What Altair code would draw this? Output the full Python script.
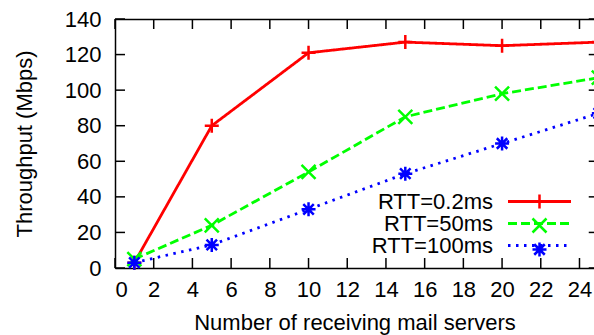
import altair as alt
import pandas as pd

# ---- data ----
series_names = ["RTT=0.2ms", "RTT=50ms", "RTT=100ms"]
servers = [1, 5, 10, 15, 20, 25]
thr_rtt_02 = [3, 80, 121, 127, 125, 127]
thr_rtt_50 = [5, 24, 54, 85, 98, 107]
thr_rtt_100 = [3, 13, 33, 53, 70, 87]
x_tick_values = [0, 2, 4, 6, 8, 10, 12, 14, 16, 18, 20, 22, 24]
y_tick_values = [0, 20, 40, 60, 80, 100, 120, 140]
x_title = "Number of receiving mail servers"
y_title = "Throughput (Mbps)"

# ---- styles ----
colors = ["#ff0000", "#00ff00", "#0000ff"]
dashes = [[1, 0], [9, 4], [2.5, 5.5]]
plus_path = "M-1,0L1,0M0,-1L0,1"
cross_path = "M-1,-1L1,1M-1,1L1,-1"
star_path = "M-1,0L1,0M0,-1L0,1M-0.75,-0.75L0.75,0.75M-0.75,0.75L0.75,-0.75"
FONT = "Liberation Sans"
W, H = 479, 249
TICK = 10
RIGHT_TICK = 5.25

rows = []
for i, (name, vals) in enumerate(zip(series_names, [thr_rtt_02, thr_rtt_50, thr_rtt_100])):
    for xv, yv in zip(servers, vals):
        rows.append({"series": name, "series_idx": i, "servers": xv, "throughput": yv})
df = pd.DataFrame(rows)
xt_df = pd.DataFrame({"tick": x_tick_values})
yt_df = pd.DataFrame({"tick": y_tick_values})

xscale = alt.Scale(domain=[0, 24.75], nice=False, zero=False)
yscale = alt.Scale(domain=[0, 140], nice=False)

x_axis_bottom = alt.Axis(
    orient="bottom", values=x_tick_values, ticks=False, grid=False,
    domain=True, domainColor="black", domainWidth=1.5,
    labelPadding=11, title=x_title, titlePadding=12,
)
y_axis_left = alt.Axis(
    orient="left", values=y_tick_values, ticks=False, grid=False,
    domain=True, domainColor="black", domainWidth=1.5,
    labelPadding=14, title=y_title, titlePadding=28,
)
x_axis_top = alt.Axis(orient="top", ticks=False, labels=False, grid=False,
                      domain=True, domainColor="black", domainWidth=1.5, title=None)

legend_common = dict(orient="none", legendX=413.5, legendY=171.5, title=None, padding=0,
                     rowPadding=0, labelFontSize=22, labelFont=FONT, labelColor="black",
                     labelAlign="right", labelBaseline="middle", labelLimit=0,
                     labelOffset=alt.ExprRef(expr="-57.5"), symbolOffset=0)

line_legend = alt.Legend(symbolType="M-4.5,0L4.5,0", symbolSize=196, symbolStrokeWidth=2.8,
                         **legend_common)
marker_legend = alt.Legend(symbolSize=196, symbolStrokeWidth=2.5, labelExpr="''",
                           **legend_common)

lines = alt.Chart(df).mark_line(strokeWidth=2.8).encode(
    x=alt.X("servers:Q", scale=xscale, axis=x_axis_bottom),
    y=alt.Y("throughput:Q", scale=yscale, axis=y_axis_left),
    color=alt.Color("series:N", scale=alt.Scale(domain=series_names, range=colors), legend=line_legend),
    strokeDash=alt.StrokeDash("series:N", scale=alt.Scale(domain=series_names, range=dashes), legend=line_legend),
)

idx_domain = list(range(len(series_names)))
points = alt.Chart(df).mark_point(filled=False, strokeWidth=2.5, size=196, opacity=1).encode(
    x=alt.X("servers:Q", scale=xscale, axis=x_axis_top),
    y=alt.Y("throughput:Q", scale=yscale, axis=None),
    stroke=alt.Stroke("series_idx:N", scale=alt.Scale(domain=idx_domain, range=colors), legend=marker_legend),
    shape=alt.Shape("series_idx:N", scale=alt.Scale(domain=idx_domain,
                                                    range=[plus_path, cross_path, star_path]),
                    legend=marker_legend),
)

# inward tick marks on all four sides (positions from the shared scales)
tick_style = dict(thickness=1.5, color="black", opacity=1)
ticks_bottom = alt.Chart(xt_df).mark_tick(orient="vertical", size=TICK, **tick_style).encode(
    x=alt.X("tick:Q", scale=xscale, axis=None), y=alt.value(H - TICK / 2))
ticks_top = alt.Chart(xt_df).mark_tick(orient="vertical", size=TICK, **tick_style).encode(
    x=alt.X("tick:Q", scale=xscale, axis=None), y=alt.value(TICK / 2))
ticks_left = alt.Chart(yt_df).mark_tick(orient="horizontal", size=TICK, **tick_style).encode(
    y=alt.Y("tick:Q", scale=yscale, axis=None), x=alt.value(TICK / 2))
ticks_right = alt.Chart(yt_df).mark_tick(orient="horizontal", size=2 * RIGHT_TICK, **tick_style).encode(
    y=alt.Y("tick:Q", scale=yscale, axis=None), x=alt.value(W))

chart = alt.layer(
    ticks_bottom, ticks_top, ticks_left, ticks_right, lines, points
).resolve_axis(
    x="independent", y="independent"
).properties(
    width=W, height=H,
    autosize=alt.AutoSizeParams(type="none"),
    padding={"left": 115, "top": 19, "right": 0, "bottom": 67},
    background="white",
).configure_view(stroke="transparent").configure_axis(
    labelFont=FONT, labelFontSize=22, labelColor="black",
    titleFont=FONT, titleFontSize=22, titleFontWeight="normal", titleColor="black",
)

chart.save("out.html", embed_options={"renderer": "svg", "actions": False})
